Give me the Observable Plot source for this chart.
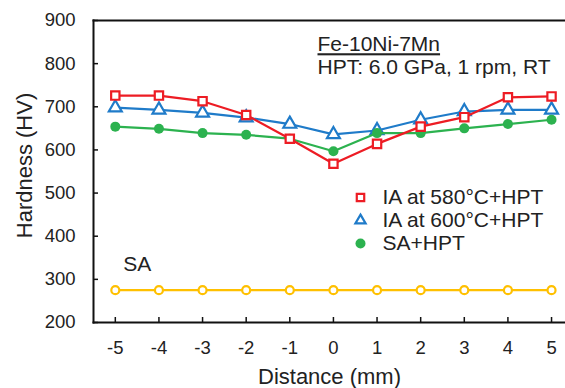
<!DOCTYPE html>
<html>
<head>
<meta charset="utf-8">
<script src="https://cdn.jsdelivr.net/npm/d3@7"></script>
<script src="https://cdn.jsdelivr.net/npm/@observablehq/plot@0.6"></script>
<style>
  html, body { margin: 0; padding: 0; background: #fff; }
  #chart { width: 565px; height: 388px; }
</style>
</head>
<body>
<div id="chart"></div>
<script>
// ---- data ----
const distance = [-5, -4, -3, -2, -1, 0, 1, 2, 3, 4, 5];
const ia580 = [726, 726, 713, 681, 626, 568, 614, 654, 676, 722, 724];
const ia600 = [698, 693, 686, 675, 660, 636, 645, 670, 689, 693, 693];
const saHpt = [654, 649, 639, 635, 626, 597, 639, 639, 650, 660, 670];
const sa    = [275, 275, 275, 275, 275, 275, 275, 275, 275, 275, 275];
const yTicks = [200, 300, 400, 500, 600, 700, 800, 900];
const xTicks = [-5, -4, -3, -2, -1, 0, 1, 2, 3, 4, 5];
const seriesNames = ["IA at 580°C+HPT", "IA at 600°C+HPT", "SA+HPT", "SA"];
const titleText = "Fe-10Ni-7Mn";
const conditionText = "HPT: 6.0 GPa, 1 rpm, RT";
const xLabel = "Distance (mm)";
const yLabel = "Hardness (HV)";

const rows = (vals) => distance.map((d, i) => ({x: d, y: vals[i]}));

const colors = {red: "#ed1c24", blue: "#1f7bc9", green: "#2cb24f", yellow: "#ffc000"};
const font = "'Liberation Sans', Arial, sans-serif";

const legendItems = [
  {name: seriesNames[0], symbol: "square", fill: "white", stroke: colors.red, r: 4.2, sw: 2.2},
  {name: seriesNames[1], symbol: "triangle", fill: "white", stroke: colors.blue, r: 3.8, sw: 2.2},
  {name: seriesNames[2], symbol: "circle", fill: colors.green, stroke: "none", r: 5, sw: 0}
];

const legendMarks = legendItems.flatMap((it, i) => [
  Plot.dot([it.name], {frameAnchor: "top-left", dx: 267, dy: 177 + i * 23, symbol: it.symbol, r: it.r, fill: it.fill, stroke: it.stroke, strokeWidth: it.sw}),
  Plot.text([it.name], {frameAnchor: "top-left", dx: 289, dy: 177 + i * 23, text: d => d, textAnchor: "start", lineAnchor: "middle", fontSize: 21, fill: "#222"})
]);

const chart = Plot.plot({
  width: 565,
  height: 388,
  marginLeft: 93,
  marginRight: 0,
  marginTop: 20,
  marginBottom: 66,
  style: {fontFamily: font, background: "white", color: "#222"},
  x: {domain: [-5.5, 5.32]},
  y: {domain: [yTicks[0], yTicks[yTicks.length - 1]]},
  marks: [
    Plot.axisY({ticks: yTicks, tickSize: 0, tickPadding: 18, fontSize: 18.5, label: null, fill: "#222"}),
    Plot.axisY({ticks: yTicks, tickSize: -5, text: null, label: null, strokeWidth: 1.5, stroke: "#111"}),
    Plot.axisX({ticks: xTicks, tickSize: 0, tickPadding: 18, fontSize: 18.5, label: null, fill: "#222", tickFormat: d => String(d)}),
    Plot.axisX({ticks: xTicks, tickSize: -5, text: null, label: null, strokeWidth: 1.5, stroke: "#111"}),
    Plot.frame({anchor: "left", stroke: "#111", strokeWidth: 2}),
    Plot.frame({anchor: "top", stroke: "#111", strokeWidth: 2}),
    Plot.frame({anchor: "bottom", stroke: "#111", strokeWidth: 2}),
    Plot.text([xLabel], {frameAnchor: "bottom", dy: 61, lineAnchor: "bottom", fontSize: 22, fill: "#222"}),
    Plot.text([yLabel], {frameAnchor: "left", dx: -69, dy: -6, rotate: -90, textAnchor: "middle", lineAnchor: "middle", fontSize: 22, fill: "#222"}),
    // SA series
    Plot.line(rows(sa), {x: "x", y: "y", stroke: colors.yellow, strokeWidth: 2.2}),
    Plot.dot(rows(sa), {x: "x", y: "y", r: 4, fill: "white", stroke: colors.yellow, strokeWidth: 2.2}),
    // IA 600
    Plot.line(rows(ia600), {x: "x", y: "y", stroke: colors.blue, strokeWidth: 2.2}),
    Plot.dot(rows(ia600), {x: "x", y: "y", symbol: "triangle", r: 4.8, fill: "white", stroke: colors.blue, strokeWidth: 2.2}),
    // SA + HPT
    Plot.line(rows(saHpt), {x: "x", y: "y", stroke: colors.green, strokeWidth: 2.2}),
    Plot.dot(rows(saHpt), {x: "x", y: "y", r: 5, fill: colors.green}),
    // IA 580
    Plot.line(rows(ia580), {x: "x", y: "y", stroke: colors.red, strokeWidth: 2.2}),
    Plot.dot(rows(ia580), {x: "x", y: "y", symbol: "square", r: 4.7, fill: "white", stroke: colors.red, strokeWidth: 2.2}),
    // annotations
    Plot.text([seriesNames[3]], {x: distance[0], y: sa[0], dx: 8, dy: -26, text: d => d, textAnchor: "start", lineAnchor: "middle", fontSize: 21, fill: "#222"}),
    Plot.text([titleText], {frameAnchor: "top-left", dx: 224, dy: 24, text: d => d, textAnchor: "start", lineAnchor: "middle", fontSize: 21, fill: "#222", className: "title-underline"}),
    Plot.text([conditionText], {frameAnchor: "top-left", dx: 224, dy: 47, text: d => d, textAnchor: "start", lineAnchor: "middle", fontSize: 21, fill: "#222"}),
    ...legendMarks
  ]
});

d3.select(chart).selectAll(".title-underline text").attr("text-decoration", "underline");
document.getElementById("chart").appendChild(chart);
</script>
</body>
</html>
